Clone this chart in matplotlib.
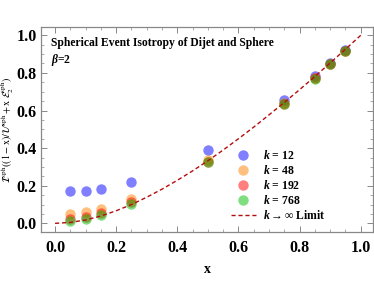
import matplotlib
matplotlib.use("Agg")
import matplotlib.pyplot as plt
from matplotlib.ticker import MultipleLocator

plt.rcParams['mathtext.fontset'] = 'custom'
plt.rcParams['mathtext.it'] = 'Liberation Serif:italic:bold'
plt.rcParams['mathtext.rm'] = 'Liberation Serif:bold'
plt.rcParams['mathtext.bf'] = 'Liberation Serif:bold'
plt.rcParams['font.family'] = ['Liberation Serif', 'DejaVu Serif']

x_vals = [0.05, 0.1, 0.15, 0.25, 0.5, 0.75, 0.85, 0.9, 0.95]
k12 = [0.172, 0.174, 0.182, 0.218, 0.388, 0.655, 0.782, 0.851, 0.920]
k48 = [0.049, 0.062, 0.078, 0.131, 0.337, 0.640, 0.773, 0.849, 0.919]
k192 = [0.022, 0.036, 0.056, 0.112, 0.328, 0.636, 0.771, 0.848, 0.919]
k768 = [0.012, 0.025, 0.046, 0.104, 0.324, 0.634, 0.770, 0.848, 0.918]

lim_x = [0.0, 0.05, 0.1, 0.15, 0.2, 0.25, 0.3, 0.35, 0.4, 0.45, 0.5,
         0.55, 0.6, 0.65, 0.7, 0.75, 0.8, 0.85, 0.9, 0.95, 1.0]
lim_y = [0.0, 0.005, 0.018, 0.039, 0.067, 0.100, 0.139, 0.182, 0.229, 0.279, 0.333,
         0.390, 0.450, 0.512, 0.577, 0.643, 0.711, 0.781, 0.853, 0.926, 1.0]

series = [("12", k12, (0.0, 0.0, 1.0)),
          ("48", k48, (1.0, 0.5, 0.0)),
          ("192", k192, (1.0, 0.0, 0.0)),
          ("768", k768, (0.0, 0.75, 0.0))]

fig = plt.figure(figsize=(3.74, 2.99), dpi=100)
ax = fig.add_axes([41/374, 1-232/299, 332/374, 205/299])

for lab, ys, col in series:
    ax.plot(x_vals, ys, 'o', color=col, alpha=0.5, ms=7.5, mec='none',
            label=r'$k$ = ' + lab)
ax.plot(lim_x, lim_y, '--', color=(0.7, 0.05, 0.05), lw=1.0, dashes=(3, 2),
        label=r'$k\rightarrow\infty$ Limit')

ax.set_xlim(-0.046, 1.04)
ax.set_ylim(-0.046, 1.044)
ax.xaxis.set_major_locator(MultipleLocator(0.2))
ax.xaxis.set_minor_locator(MultipleLocator(0.05))
ax.yaxis.set_major_locator(MultipleLocator(0.2))
ax.yaxis.set_minor_locator(MultipleLocator(0.05))
ax.tick_params(which='both', direction='in', top=True, right=True, color='#888888')
ax.tick_params(which='major', length=4, width=0.7, labelsize=11.5)
ax.tick_params(axis='y', which='major', pad=3)
ax.tick_params(axis='x', which='major', pad=6)
ax.tick_params(which='minor', length=2, width=0.5)
for lbl in ax.get_xticklabels() + ax.get_yticklabels():
    lbl.set_fontweight('bold')
for s in ax.spines.values():
    s.set_color('#888888')
    s.set_linewidth(0.9)

ax.set_xlabel('x', fontsize=10, fontweight='bold', labelpad=5)
ax.set_ylabel(r'$\mathcal{I}^{\rm sph}((1-{\rm x})/\mathcal{U}^{\rm sph}+{\rm x}\;\mathcal{E}_2^{\rm sph})$',
              fontsize=7.3, math_fontfamily='stix')
ax.yaxis.set_label_coords(-0.074, 0.5)

ax.text(0.03, 0.922, 'Spherical Event Isotropy of Dijet and Sphere', transform=ax.transAxes,
        fontsize=8.4, fontweight='bold', va='center', ha='left')
ax.text(0.03, 0.839, r'$\beta$=2', transform=ax.transAxes,
        fontsize=8.4, fontweight='bold', va='center', ha='left')

leg = ax.legend(loc='upper left', bbox_to_anchor=(0.572, 0.405), frameon=False,
                fontsize=8.5, handlelength=2.1, labelspacing=0.18, handletextpad=0.6,
                borderpad=0, borderaxespad=0, markerscale=1.0)
for t in leg.get_texts():
    t.set_fontweight('bold')

fig.savefig('out.png', dpi=100)
